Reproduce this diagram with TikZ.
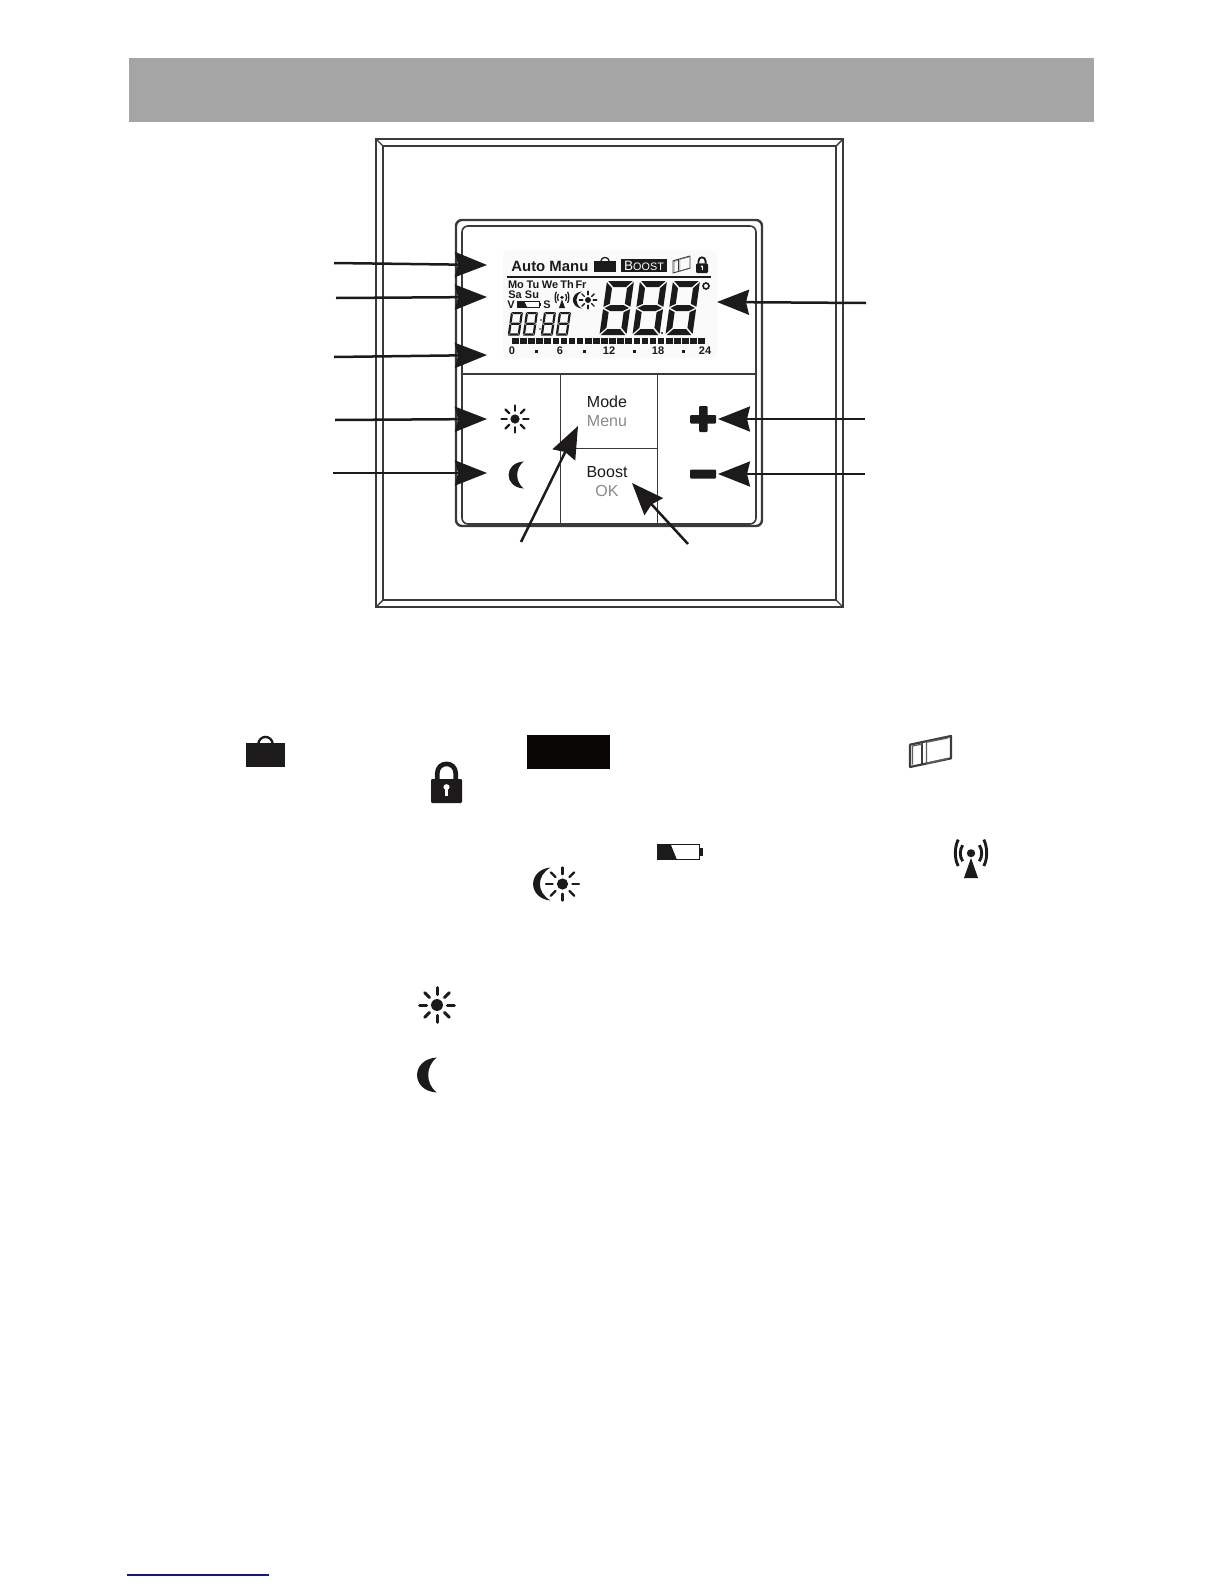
\documentclass[tikz,border=0pt]{standalone}
\usepackage{fontspec}
\setmainfont{Liberation Sans}
\usetikzlibrary{arrows.meta}
\definecolor{ink}{HTML}{1C1A1A}
\definecolor{barGray}{HTML}{A6A5A5}
\definecolor{frameGray}{HTML}{3A3A3A}
\definecolor{menuGray}{HTML}{8A8A8A}
\definecolor{linkBlue}{HTML}{15158C}
\tikzset{
  pointer/.style={draw=ink,line width=1.25pt,-{Stealth[length=16pt,width=12.5pt,inset=1.5pt]}},
  framel/.style={draw=frameGray,line width=1pt},
  devl/.style={draw=frameGray,line width=.8pt},
  boldlcd/.style={font=\fontsize{5.5}{6}\selectfont\bfseries,text=ink,inner sep=0pt,anchor=base},
  btntxt/.style={font=\fontsize{8}{9}\selectfont,text=ink,inner sep=0pt,anchor=base},
  btngray/.style={font=\fontsize{8}{9}\selectfont,text=menuGray,inner sep=0pt,anchor=base},
  seg/.style={fill=ink}
}
\newcommand{\sunat}[4]{\begin{scope}[shift={(#1,#2)},scale=#3]
  \fill[ink] (0,0) circle[radius=.33];
  \foreach \a in {0,45,...,315}{\draw[ink,line width=#4,line cap=round] (\a:.58)--(\a:.97);}
\end{scope}}
\newcommand{\moonat}[3]{\begin{scope}[shift={(#1,#2)},scale=#3]
  \fill[ink] (.5,-1) .. controls (-1,-.9) and (-1,.9) .. (.5,1)
     .. controls (-.15,.5) and (-.15,-.5) .. (.5,-1) -- cycle;
\end{scope}}
\newcommand{\thinmoonat}[3]{\begin{scope}[shift={(#1,#2)},scale=#3]
  \fill[ink] (.45,-1) .. controls (-.95,-.85) and (-.95,.85) .. (.45,1)
     .. controls (-.4,.5) and (-.4,-.5) .. (.45,-1) -- cycle;
\end{scope}}
% box x0,y0,w,h
\newcommand{\bagat}[4]{\begin{scope}[shift={(#1,#2)},xscale=#3,yscale=#4]
  \fill[ink] (0,.24) rectangle (1,1);
  \draw[ink,line width=#3*.03pt] (.31,.27) .. controls (.34,-.05) and (.66,-.05) .. (.69,.27);
\end{scope}}
\newcommand{\lockat}[4]{\begin{scope}[shift={(#1,#2)},xscale=#3,yscale=#4]
  \fill[ink,rounded corners=.6pt] (0,.4) rectangle (1,1);
  \draw[ink,line width=#3*.075pt] (.2,.42) -- (.2,.27) .. controls (.2,-.06) and (.8,-.06) .. (.8,.27) -- (.8,.42);
  \fill[white] (.5,.6) circle[x radius=.1,y radius=.07];
  \fill[white] (.46,.6) rectangle (.54,.82);
\end{scope}}
\newcommand{\doorat}[5]{\begin{scope}[shift={(#1,#2)},xscale=#3,yscale=#4]
  \draw[ink!85,line width=#5,line join=round] (0,.28)--(1,0)--(1,.72)--(0,1)--cycle;
  \draw[ink!85,line width=#5] (.3,.2)--(.3,.92);
  \draw[ink!70,line width=#5*.6] (.4,.2)--(.4,.89) (.4,.2)--(.93,.06) (.4,.89)--(.93,.72) (.06,.32)--(.3,.26) (.06,.32)--(.06,.92);
\end{scope}}
\newcommand{\batat}[5]{\begin{scope}[shift={(#1,#2)},xscale=#3,yscale=#4]
  \draw[ink,line width=#5] (.01,.04) rectangle (.92,.96);
  \fill[ink] (.01,.04) -- (.3,.04) -- (.43,.96) -- (.01,.96) -- cycle;
  \fill[ink] (.94,.28) rectangle (1,.72);
\end{scope}}
\newcommand{\antat}[4]{\begin{scope}[shift={(#1,#2)},xscale=#3,yscale=#4]
  \fill[ink] (.5,.38) circle[x radius=.13,y radius=.1];
  \fill[ink] (.5,.5) -- (.72,1) -- (.28,1) -- cycle;
  \draw[ink,line width=#3*.045pt] (.24,.18) .. controls (.14,.3) and (.14,.46) .. (.24,.58);
  \draw[ink,line width=#3*.045pt] (.76,.18) .. controls (.86,.3) and (.86,.46) .. (.76,.58);
  \draw[ink,line width=#3*.045pt] (.1,.04) .. controls (-.02,.24) and (-.02,.52) .. (.1,.7);
  \draw[ink,line width=#3*.045pt] (.9,.04) .. controls (1.02,.24) and (1.02,.52) .. (.9,.7);
\end{scope}}
% seven segments: x y w h t
\newcommand{\sevenseg}[5]{\begin{scope}[shift={(#1,#2)},xslant=.14]
  \pgfmathsetmacro{\W}{#3}\pgfmathsetmacro{\H}{#4}\pgfmathsetmacro{\T}{#5}
  \pgfmathsetmacro{\G}{\T*.2}\pgfmathsetmacro{\M}{\H/2}
  \pgfmathsetmacro{\Wa}{\W-\G}\pgfmathsetmacro{\Wb}{\W-\G-\T}\pgfmathsetmacro{\Tg}{\T+\G}
  \pgfmathsetmacro{\Ma}{\M-\G}\pgfmathsetmacro{\Mb}{\M-\G-\T/2}\pgfmathsetmacro{\Mc}{\M+\G}\pgfmathsetmacro{\Md}{\M+\G+\T/2}
  \pgfmathsetmacro{\Ha}{\H-\G}\pgfmathsetmacro{\Hb}{\H-\G-\T}\pgfmathsetmacro{\Wc}{\W-\T}
  \pgfmathsetmacro{\Mu}{\M-\T/2}\pgfmathsetmacro{\Ml}{\M+\T/2}\pgfmathsetmacro{\Hc}{\H-\T}
  \path[seg] (\G,0)--(\Wa,0)--(\Wb,\T)--(\Tg,\T)--cycle;
  \path[seg] (\G,\H)--(\Wa,\H)--(\Wb,\Hc)--(\Tg,\Hc)--cycle;
  \path[seg] (\Tg,\Mu)--(\Wb,\Mu)--(\Wa,\M)--(\Wb,\Ml)--(\Tg,\Ml)--(\G,\M)--cycle;
  \path[seg] (0,\G)--(\T,\Tg)--(\T,\Mb)--(0,\Ma)--cycle;
  \path[seg] (0,\Mc)--(\T,\Md)--(\T,\Hb)--(0,\Ha)--cycle;
  \path[seg] (\W,\G)--(\Wc,\Tg)--(\Wc,\Mb)--(\W,\Ma)--cycle;
  \path[seg] (\W,\Mc)--(\Wc,\Md)--(\Wc,\Hb)--(\W,\Ha)--cycle;
\end{scope}}
\begin{document}
\begin{tikzpicture}[x=.5pt,y=-.5pt]
\useasboundingbox (0,0) rectangle (1224,1584);
\fill[white] (0,0) rectangle (1224,1584);
% header bar
\fill[barGray] (129,58) rectangle (1094,122);
% outer frame
\draw[framel] (376,139) rectangle (843,607);
\draw[framel,line width=.7pt] (383,146) rectangle (836,600);
\draw[framel,line width=.7pt] (376,139)--(383,146) (843,139)--(836,146) (376,607)--(383,600) (843,607)--(836,600);
% device body
\draw[devl,line width=1.2pt,rounded corners=3pt] (456,220) rectangle (762,526);
\draw[devl,rounded corners=3pt] (462,226) rectangle (756,524);
\draw[devl] (462,374)--(756,374);
\draw[devl] (560.5,374)--(560.5,525) (657.5,374)--(657.5,525);
\draw[devl] (560.5,448.5)--(657.5,448.5);
% LCD
\fill[black!2,rounded corners=3pt] (503,250) rectangle (717,358);
\node[font=\fontsize{7.45}{9}\selectfont\bfseries,text=ink,inner sep=0pt,anchor=base west] (tauto) at (511,271) {Auto Manu};
\bagat{594}{257}{22}{15}
\fill[ink] (621,259) rectangle (667,272);
\node[inner sep=0pt,anchor=base,text=white,font=\fontsize{6.8}{8}\selectfont] (tboost) at (644,270) {B{\fontsize{5.4}{8}\selectfont OOST}};
\doorat{673}{256}{17}{17}{.45pt}
\lockat{696}{257}{12}{16}
\draw[ink,line width=.6pt] (507,277)--(711,277);
\node[boldlcd] (tmo) at (516,288) {Mo};
\node[boldlcd] (ttu) at (533,288) {Tu};
\node[boldlcd] (twe) at (550,288) {We};
\node[boldlcd] (tth) at (567,288) {Th};
\node[boldlcd] (tfr) at (581,288) {Fr};
\node[boldlcd] (tsa) at (515,298) {Sa};
\node[boldlcd] (tsu) at (532,298) {Su};
\node[boldlcd] (tv) at (511,308) {V};
\batat{517}{301}{24}{7}{.4pt}
\node[boldlcd] (ts) at (547,308) {S};
\antat{555}{291}{14}{17}
\thinmoonat{578}{300}{8.5}
\sunat{588}{300}{9}{.7pt}
% big digits
\sevenseg{607}{281}{27}{54}{6}
\sevenseg{640}{281}{27}{54}{6}
\sevenseg{673}{281}{27}{54}{6}
\draw[ink,line width=.8pt] (706,286) circle[radius=3];
\fill[ink] (662,333) circle[radius=1.2];
% small clock digits
\sevenseg{511}{312}{12}{23.5}{2.2}
\sevenseg{526}{312}{12}{23.5}{2.2}
\sevenseg{544}{312}{12}{23.5}{2.2}
\sevenseg{559}{312}{12}{23.5}{2.2}
\fill[ink] (541,320) circle[radius=.9] (540,329) circle[radius=.9];
% hour bar
\foreach \i in {0,...,23}{\fill[ink] ({512+8.1*\i},338) rectangle ({518.6+8.1*\i},344);}
\node[boldlcd] (h0) at (512,354) {0};
\node[boldlcd] (h6) at (560,354) {6};
\node[boldlcd] (h12) at (609,354) {12};
\node[boldlcd] (h18) at (658,354) {18};
\node[boldlcd] (h24) at (705,354) {24};
\foreach \x in {536,584,634,683}{\fill[ink] (\x-1.5,349.5) rectangle (\x+1.5,352.5);}
% buttons
\sunat{515}{419}{14}{1.1pt}
\moonat{517}{475}{13.5}
\fill[ink,rounded corners=.5pt] (699,406) rectangle (707.5,432);
\fill[ink,rounded corners=.5pt] (690,415) rectangle (716,423.5);
\fill[ink,rounded corners=.5pt] (690,469.5) rectangle (716,478.5);
\node[btntxt] (tmode) at (607,407) {Mode};
\node[btngray] (tmenu) at (607,426) {Menu};
\node[btntxt] (tbst) at (607,477) {Boost};
\node[btngray] (tok) at (607,496) {OK};
% pointers
\coordinate (a1s) at (334,263); \coordinate (a1t) at (487,265);
\coordinate (a2s) at (336,298); \coordinate (a2t) at (487,297);
\coordinate (a3s) at (334,357); \coordinate (a3t) at (487,355);
\coordinate (a4s) at (335,420); \coordinate (a4t) at (487,419);
\coordinate (a5s) at (333,473); \coordinate (a5t) at (487,473);
\coordinate (b1s) at (866,303); \coordinate (b1t) at (717,302);
\coordinate (b2s) at (865,419); \coordinate (b2t) at (718,419);
\coordinate (b3s) at (865,474); \coordinate (b3t) at (718,474);
\coordinate (c1s) at (521,542); \coordinate (c1t) at (578,426);
\coordinate (c2s) at (688,544); \coordinate (c2t) at (632,483);
\draw[pointer] (a1s)--(a1t);
\draw[pointer] (a2s)--(a2t);
\draw[pointer] (a3s)--(a3t);
\draw[pointer] (a4s)--(a4t);
\draw[pointer] (a5s)--(a5t);
\draw[pointer] (b1s)--(b1t);
\draw[pointer] (b2s)--(b2t);
\draw[pointer] (b3s)--(b3t);
\draw[pointer] (c1s)--(c1t);
\draw[pointer] (c2s)--(c2t);
% legend icons
\bagat{246}{736}{39}{31}
\fill[black!95!brown] (527,735) rectangle (610,769);
\doorat{910}{736}{41}{31}{1.1pt}
\lockat{431}{763}{31}{40}
\batat{657}{844}{46}{16}{.7pt}
\antat{955}{838}{32}{40}
\thinmoonat{543}{884}{16.5}
\sunat{562.5}{884}{17}{1.2pt}
\sunat{437}{1005}{18}{1.5pt}
\moonat{428}{1075}{17.5}
% footer link rule
\draw[linkBlue,line width=.55pt] (127,1575)--(269,1575);
\end{tikzpicture}
\end{document}
